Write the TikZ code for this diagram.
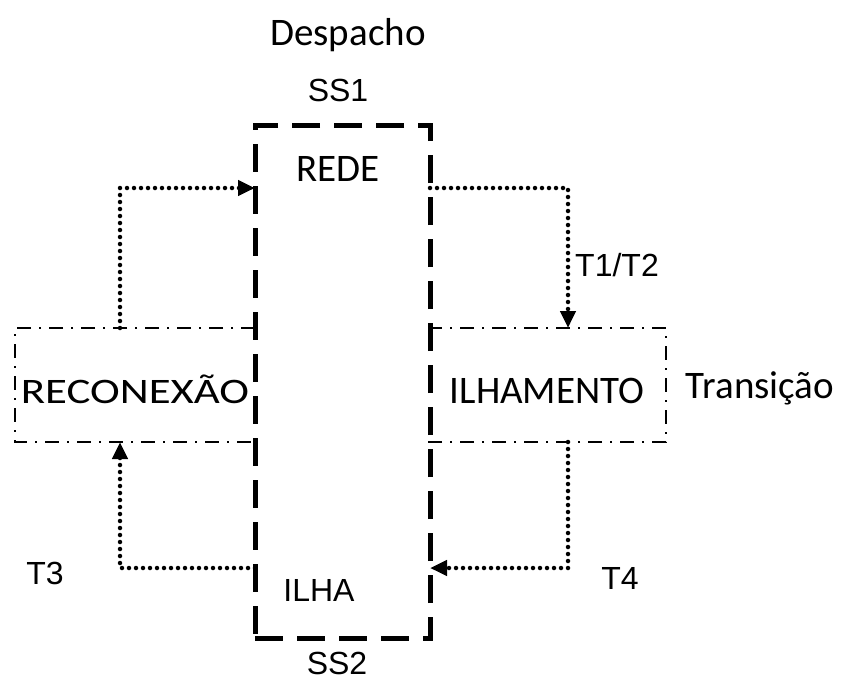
\documentclass[tikz,border=0pt]{standalone}
\usepackage{fontspec}
\setmainfont{Carlito}
\newfontfamily\arialf{Liberation Sans}
\usetikzlibrary{positioning, arrows.meta}

\begin{document}
\begin{tikzpicture}[x=1pt, y=-1pt, >={Triangle[length=17pt, width=15pt]},
    big/.style={font=\fontsize{39}{45}\selectfont},
    small/.style={font=\arialf\fontsize{32}{38}\selectfont},
    mainbox/.style={draw, rectangle, outer sep=0pt, line width=5pt, dash pattern=on 28pt off 14pt},
    statebox/.style={rectangle, outer sep=0pt, big, text height=36pt, text depth=0pt},
    edgeline/.style={line width=2pt, dash pattern=on 14pt off 8pt on 2pt off 8pt},
    flow/.style={->, line width=4.5pt, line cap=round, dash pattern=on 0pt off 7pt}]
    \useasboundingbox (0,0) rectangle (846,686);

    \node[mainbox, minimum width=175pt, minimum height=513pt] (sist) at (342.5,381.5) {};
    \node[statebox, minimum width=240pt, minimum height=114pt] (recon) at (135,385) {\scalebox{1.15}[0.92]{RECONEXÃO}};
    \node[statebox, minimum width=238pt, minimum height=114pt] (ilham) at (547,385) {ILHAMENTO};

    \node[big] (rede) at (338,169) {REDE};
    \node[small] (ilha) at (319,590) {ILHA};
    \node[small] (ss1) at (338,90) {SS1};
    \node[small] (ss2) at (337,663) {SS2};
    \node[big] (desp) at (348,35) {Despacho};
    \node[big] (trans) at (760,388) {Transição};
    \node[small] (t12) at (617,265) {T1/T2};
    \node[small] (t3) at (45,573) {T3};
    \node[small] (t4) at (620,578) {T4};

    % open sides of the transition boxes
    \draw[edgeline] (recon.north east) -- (recon.north west) -- (recon.south west) -- (recon.south east);
    \draw[edgeline] (ilham.north west) -- (ilham.north east) -- (ilham.south east) -- (ilham.south west);

    % bends of the transitions
    \coordinate (b1) at (120,188);
    \coordinate (b2) at (568,188);
    \coordinate (b3) at (568,568);
    \coordinate (b4) at (120,568);

    \draw[flow] (recon.north -| b1) |- (sist.west |- b1);
    \draw[flow] (sist.east |- b2) -| (ilham.north -| b2);
    \draw[flow] (ilham.south -| b3) |- (sist.east |- b3);
    \draw[flow] (sist.west |- b4) -| (recon.south -| b4);
  \end{tikzpicture}
\end{document}
